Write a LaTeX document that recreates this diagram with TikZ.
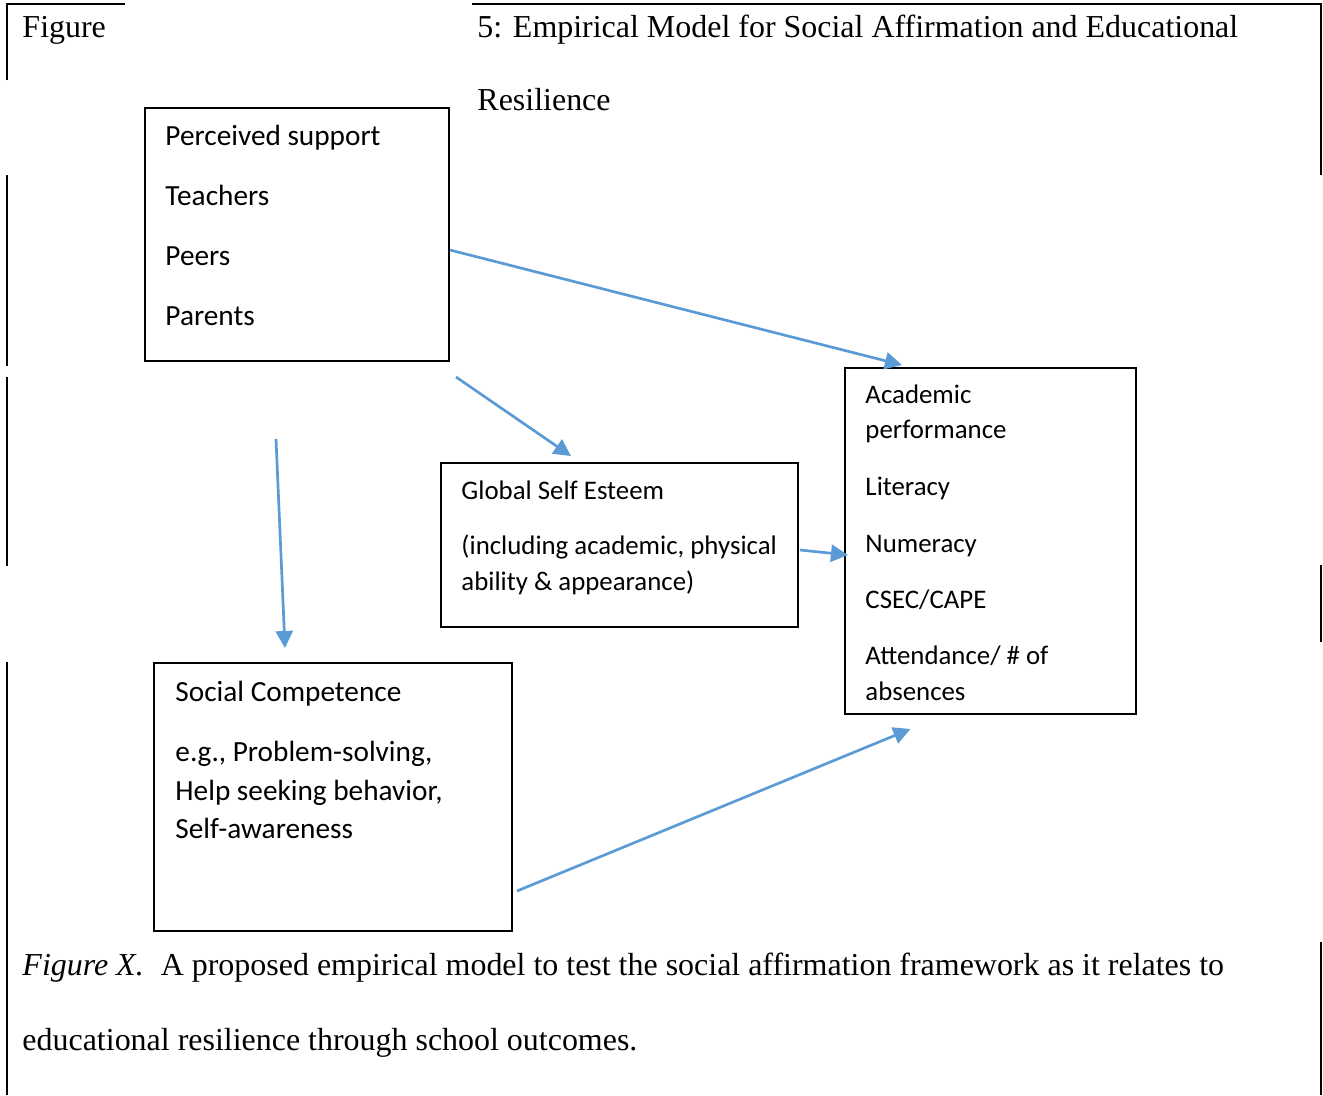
\documentclass[tikz,border=0pt]{standalone}
\usepackage{fontspec}
\setmainfont{Liberation Serif}
\newfontfamily\calibri{Carlito}
\usepackage{tikz}
\usetikzlibrary{arrows.meta}
\usetikzlibrary{fit}
\definecolor{linkblue}{RGB}{91,155,213}

\begin{document}
\begin{tikzpicture}[x=0.41pt, y=-0.41pt,
  box/.style={draw, line width=0.8pt, inner sep=0pt},
  boxtext/.style={anchor=base west, inner sep=0pt, font=\calibri\fontsize{12}{14}\selectfont},
  smalltext/.style={boxtext, font=\calibri\fontsize{11}{13}\selectfont},
  serif/.style={anchor=base west, inner sep=0pt, font=\fontsize{13.1}{15}\selectfont},
  link/.style={draw=linkblue, line width=1.1pt, -{Triangle[length=7pt,width=7pt]}},
  frame/.style={line width=1pt}]
\useasboundingbox (0,0) rectangle (1323,1095);
\coordinate (ps1) at (145,108);
\coordinate (ps2) at (449,361);
\coordinate (gse1) at (441,463);
\coordinate (gse2) at (798,627);
\coordinate (ac1) at (845,368);
\coordinate (ac2) at (1136,714);
\coordinate (sc1) at (154,663);
\coordinate (sc2) at (512,931);
% draws page frame pieces
\draw[frame] (7,80) -- (7,4) -- (125,4);
\draw[frame] (472,4) -- (1321,4) -- (1321,175);
\draw[frame] (7,175) -- (7,366);
\draw[frame] (7,377) -- (7,566);
\draw[frame] (7,662) -- (7,1095);
\draw[frame] (1321,565) -- (1321,642);
\draw[frame] (1321,942) -- (1321,1095);
% title and caption
\node[serif] (fig) at (22,37) {Figure};
\node[serif] (title) at (477,37) {5: Empirical Model for Social Affirmation and Educational};
\node[serif] (title2) at (477,110) {Resilience};
\node[serif] (cap1) at (22,975) {\textit{Figure X.}\hspace{7pt}A proposed empirical model to test the social affirmation framework as it relates to};
\node[serif] (cap2) at (22,1050) {educational resilience through school outcomes.};
% draws boxes
\node[box, fit=(ps1)(ps2)] (ps) {};
\node[box, fit=(gse1)(gse2)] (gse) {};
\node[box, fit=(ac1)(ac2)] (ac) {};
\node[box, fit=(sc1)(sc2)] (sc) {};
% labels boxes
\node[boxtext] (ps-a) at (165,145) {Perceived support};
\node[boxtext] (ps-b) at (165,205) {Teachers};
\node[boxtext] (ps-c) at (165,265) {Peers};
\node[boxtext] (ps-d) at (165,325) {Parents};
\node[smalltext] (gse-a) at (461,499) {Global Self Esteem};
\node[smalltext] (gse-b) at (461,554) {(including academic, physical};
\node[smalltext] (gse-c) at (461,590) {ability \& appearance)};
\node[smalltext] (ac-a) at (865,403) {Academic};
\node[smalltext] (ac-b) at (865,438) {performance};
\node[smalltext] (ac-c) at (865,495) {Literacy};
\node[smalltext] (ac-d) at (865,552) {Numeracy};
\node[smalltext] (ac-e) at (865,608) {CSEC/CAPE};
\node[smalltext] (ac-f) at (865,664) {Attendance/ \# of};
\node[smalltext] (ac-g) at (865,700) {absences};
\node[boxtext] (sc-a) at (175,701) {Social Competence};
\node[boxtext] (sc-b) at (175,761) {e.g., Problem-solving,};
\node[boxtext] (sc-c) at (175,800) {Help seeking behavior,};
\node[boxtext] (sc-d) at (175,838) {Self-awareness};
% draws arrows
\draw[link] ([shift={(0,15.5)}]ps.east) -- ([shift={(58,-2)}]ac.north west);
\draw[link] ([shift={(6,15)}]ps.south east) -- ([shift={(-48.5,-6)}]gse.north);
\draw[link] ([shift={(-21,77)}]ps.south) -- ([shift={(-48,-14)}]sc.north);
\draw[link] ([shift={(1,5)}]gse.east) -- ([shift={(4,14)}]ac.west);
\draw[link] ([shift={(4,94)}]sc.east) -- ([shift={(-80,14)}]ac.south);
\end{tikzpicture}
\end{document}
